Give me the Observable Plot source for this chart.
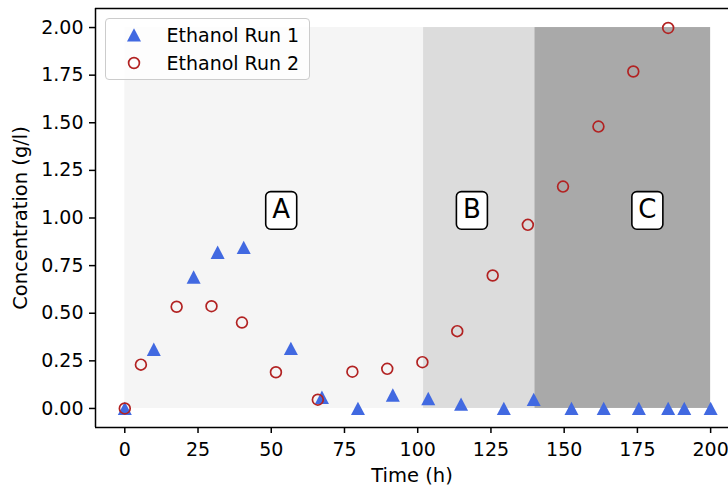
<!DOCTYPE html>
<html>
<head>
<meta charset="utf-8">
<script src="https://cdn.jsdelivr.net/npm/d3@7"></script>
<script src="https://cdn.jsdelivr.net/npm/@observablehq/plot@0.6"></script>
<style>
  html, body { margin: 0; padding: 0; background: #fff; overflow: hidden; }
  #wrap { position: relative; width: 728px; height: 486px; font-family: "DejaVu Sans", sans-serif; }
  #legend { position: absolute; left: 104.5px; top: 18px; width: 205px; height: 62px; box-sizing: border-box;
    border: 1px solid #cccccc; border-radius: 4px; background: rgba(255,255,255,0.8); }
  #legend .row { position: absolute; left: 0; height: 20px; display: flex; align-items: center; font-size: 19px; color: #000; white-space: nowrap; }
  #legend svg { position: absolute; }
</style>
</head>
<body>
<div id="wrap"></div>
<script>
// Ethanol Run 1 (triangles)
const run1Time = [0, 9.9, 23.5, 31.7, 40.6, 56.7, 67.3, 79.6, 91.5, 103.6, 114.8, 129.4, 139.6, 152.5, 163.5, 175.5, 185.5, 191.0, 200.0];
const run1Conc = [0, 0.31, 0.69, 0.82, 0.845, 0.315, 0.058, 0.0, 0.07, 0.052, 0.022, 0.0, 0.047, 0.0, 0.0, 0.0, 0.0, 0.0, 0.0];
// Ethanol Run 2 (circles)
const run2Time = [0, 5.5, 17.7, 29.6, 40.0, 51.6, 65.9, 77.7, 89.6, 101.6, 113.5, 125.6, 137.6, 149.6, 161.7, 173.6, 185.5];
const run2Conc = [0, 0.23, 0.534, 0.537, 0.451, 0.19, 0.046, 0.193, 0.208, 0.243, 0.406, 0.698, 0.964, 1.165, 1.48, 1.769, 1.998];
// phases
const phaseLabels = ["A", "B", "C"];
const phaseStart = [0, 102, 140];
const phaseEnd = [102, 140, 200];
const phaseColors = ["#f5f5f5", "#dcdcdc", "#a9a9a9"];
const phaseLabelX = [53.4, 118.5, 178.4];
const phaseLabelY = [1.04, 1.04, 1.04];
const phaseTop = 2.0;
// axes
const xTicks = [0, 25, 50, 75, 100, 125, 150, 175, 200];
const yTicks = [0, 0.25, 0.5, 0.75, 1.0, 1.25, 1.5, 1.75, 2.0];
const xDomain = [-10, 206.1];
const yDomain = [-0.1, 2.1];

const run1 = run1Time.map((t, i) => ({t, c: run1Conc[i]}));
const run2 = run2Time.map((t, i) => ({t, c: run2Conc[i]}));
const phases = phaseLabels.map((l, i) => ({l, x1: phaseStart[i], x2: phaseEnd[i], fill: phaseColors[i], lx: phaseLabelX[i], ly: phaseLabelY[i]}));

const tri = { draw(ctx) { ctx.moveTo(0, -6.8); ctx.lineTo(7, 6.6); ctx.lineTo(-7, 6.6); ctx.closePath(); } };
const box = { draw(ctx) {
  const w = 15.5, h = 18.8, r = 5;
  ctx.moveTo(-w + r, -h); ctx.lineTo(w - r, -h); ctx.arcTo(w, -h, w, -h + r, r);
  ctx.lineTo(w, h - r); ctx.arcTo(w, h, w - r, h, r);
  ctx.lineTo(-w + r, h); ctx.arcTo(-w, h, -w, h - r, r);
  ctx.lineTo(-w, -h + r); ctx.arcTo(-w, -h, -w + r, -h, r); ctx.closePath();
} };

const chart = Plot.plot({
  width: 728, height: 486,
  marginLeft: 95, marginRight: 0, marginTop: 8, marginBottom: 59,
  style: {fontFamily: "DejaVu Sans, sans-serif", fontSize: "19px", color: "#000", background: "#fff"},
  x: {domain: xDomain},
  y: {domain: yDomain},
  marks: [
    Plot.rectY(phases, {x1: "x1", x2: "x2", y1: 0, y2: phaseTop, fill: "fill"}),
    Plot.dot(phases, {x: "lx", y: "ly", symbol: box, r: 10, fill: "white", stroke: "black", strokeWidth: 1.6}),
    Plot.text(phases, {x: "lx", y: "ly", text: "l", fontSize: 26, fill: "black", dy: -1}),
    Plot.dot(run1, {x: "t", y: "c", symbol: tri, r: 5, fill: "#4169e1", stroke: "none"}),
    Plot.dot(run2, {x: "t", y: "c", r: 5.4, fill: "none", stroke: "#b22222", strokeWidth: 1.7}),
    Plot.ruleY([yDomain[1]], {stroke: "black", strokeWidth: 1.5}),
    Plot.ruleY([yDomain[0]], {stroke: "black", strokeWidth: 1.5}),
    Plot.ruleX([xDomain[0]], {stroke: "black", strokeWidth: 1.5}),
    Plot.axisX({ticks: xTicks, tickSize: 6, tickPadding: 9, tickFormat: d3.format("d"), label: null, strokeWidth: 1.5}),
    Plot.axisY({ticks: yTicks, tickSize: 6, tickPadding: 6, tickFormat: d3.format(".2f"), label: null, strokeWidth: 1.5}),
    Plot.text(["Time (h)"], {frameAnchor: "bottom", lineAnchor: "middle", dy: 48, fontSize: 19.5, fill: "black"}),
    Plot.text(["Concentration (g/l)"], {frameAnchor: "left", textAnchor: "middle", lineAnchor: "middle", rotate: -90, dx: -75, fontSize: 19.5, fill: "black"})
  ]
});
const wrap = document.getElementById("wrap");
wrap.appendChild(chart);

const legend = document.createElement("div");
legend.id = "legend";
legend.innerHTML = `
  <svg style="left:20px;top:8px" width="16" height="16" viewBox="-8 -8 16 16"><path d="M0,-6.8L7,6.6L-7,6.6Z" fill="#4169e1"/></svg>
  <div class="row" style="left:61px;top:6px">Ethanol Run 1</div>
  <svg style="left:20px;top:36px" width="16" height="16" viewBox="-8 -8 16 16"><circle r="5.4" fill="none" stroke="#b22222" stroke-width="1.7"/></svg>
  <div class="row" style="left:61px;top:34px">Ethanol Run 2</div>`;
wrap.appendChild(legend);
</script>
</body>
</html>
